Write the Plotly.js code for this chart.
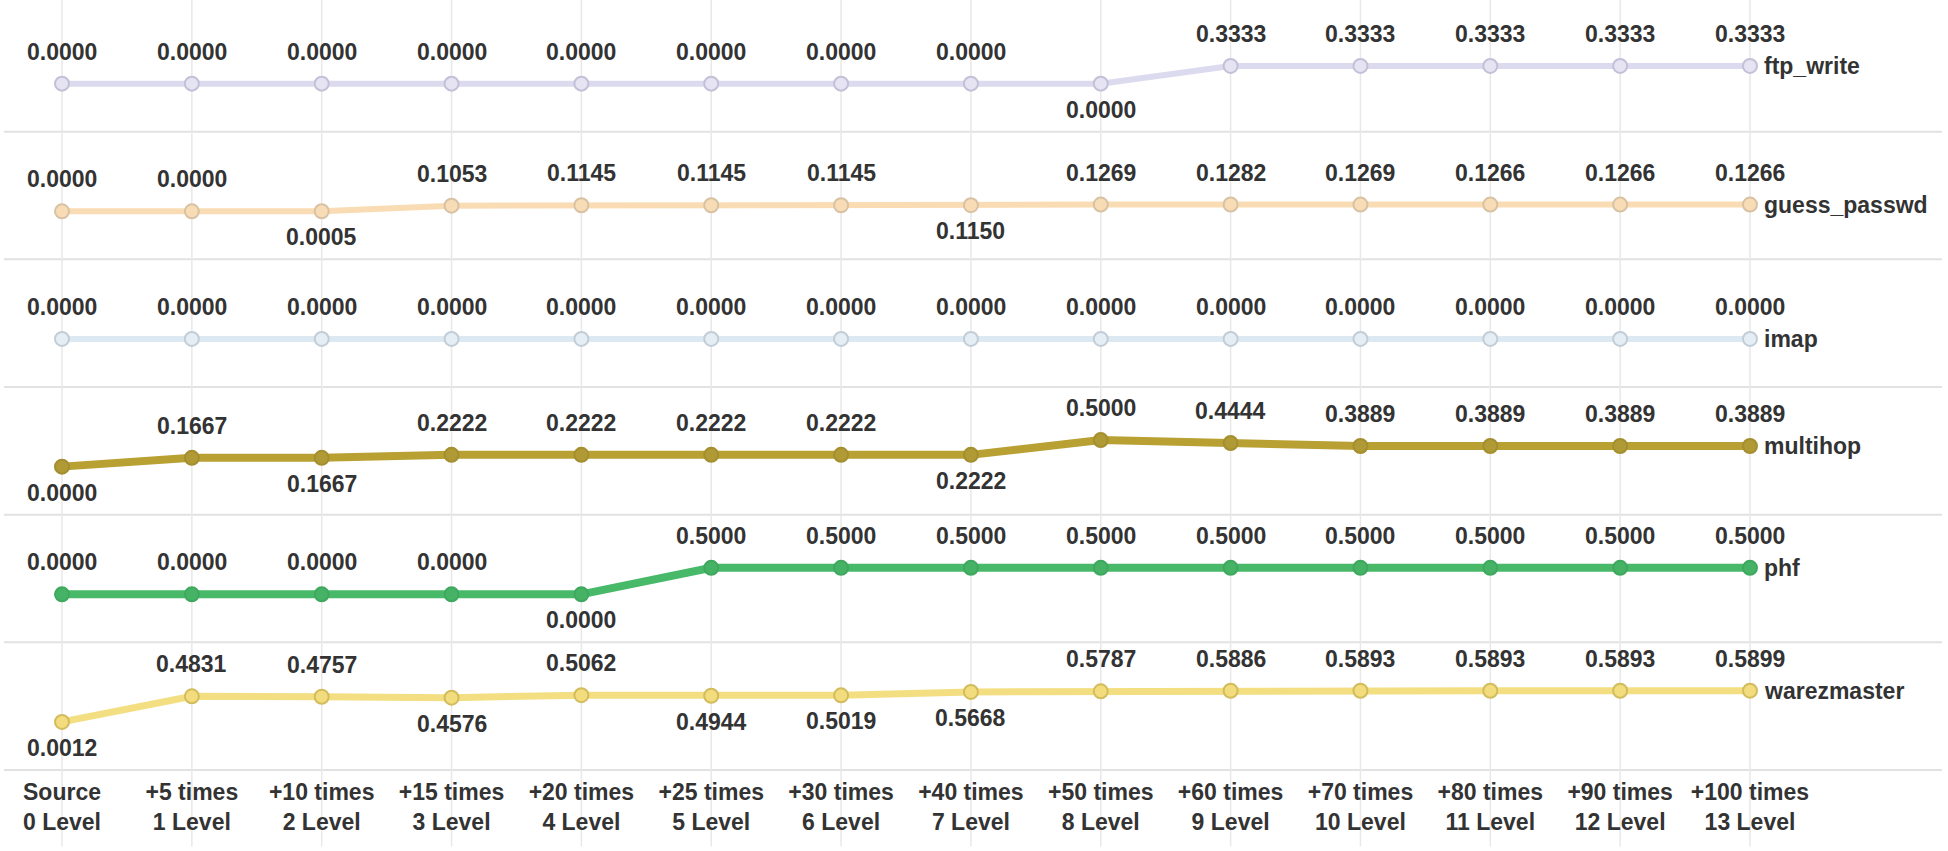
<!DOCTYPE html>
<html>
<head>
<meta charset="utf-8">
<script src="https://cdn.plot.ly/plotly-3.0.1.min.js"></script>
<style>
  html, body { margin: 0; padding: 0; background: #fff; }
  #chart { width: 1948px; height: 851px; }
</style>
</head>
<body>
<div id="chart"></div>
<script>
// categories (two-line tick labels)
const stepNames = ['Source', '+5 times', '+10 times', '+15 times', '+20 times', '+25 times', '+30 times',
  '+40 times', '+50 times', '+60 times', '+70 times', '+80 times', '+90 times', '+100 times'];
const levelNames = ['0 Level', '1 Level', '2 Level', '3 Level', '4 Level', '5 Level', '6 Level',
  '7 Level', '8 Level', '9 Level', '10 Level', '11 Level', '12 Level', '13 Level'];

// series values, top row to bottom row
const seriesNames = ['ftp_write', 'guess_passwd', 'imap', 'multihop', 'phf', 'warezmaster'];
const ftpWrite = [0, 0, 0, 0, 0, 0, 0, 0, 0, 0.3333, 0.3333, 0.3333, 0.3333, 0.3333];
const guessPasswd = [0, 0, 0.0005, 0.1053, 0.1145, 0.1145, 0.1145, 0.1150, 0.1269, 0.1282, 0.1269, 0.1266, 0.1266, 0.1266];
const imap = [0, 0, 0, 0, 0, 0, 0, 0, 0, 0, 0, 0, 0, 0];
const multihop = [0, 0.1667, 0.1667, 0.2222, 0.2222, 0.2222, 0.2222, 0.2222, 0.5, 0.4444, 0.3889, 0.3889, 0.3889, 0.3889];
const phf = [0, 0, 0, 0, 0, 0.5, 0.5, 0.5, 0.5, 0.5, 0.5, 0.5, 0.5, 0.5];
const warezmaster = [0.0012, 0.4831, 0.4757, 0.4576, 0.5062, 0.4944, 0.5019, 0.5668, 0.5787, 0.5886, 0.5893, 0.5893, 0.5893, 0.5899];
const allSeries = [ftpWrite, guessPasswd, imap, multihop, phf, warezmaster];

// styling per row
const styles = [
  { line: '#dcdaee', fill: '#e6e4f2', border: '#c3c0d8', width: 6 },
  { line: '#f9dcb3', fill: '#f8dcb6', border: '#d8c2a4', width: 6 },
  { line: '#dde9f2', fill: '#e5eef5', border: '#c2cdd7', width: 6 },
  { line: '#b8a033', fill: '#b09a35', border: '#a48f30', width: 8 },
  { line: '#48b968', fill: '#46b266', border: '#3fa85e', width: 8 },
  { line: '#f3df82', fill: '#f2dc7e', border: '#d2bc5c', width: 7 }
];
// label side for each point: 't' above, 'b' below
const labelSides = [
  'ttttttttbttttt',
  'ttbttttbtttttt',
  'tttttttttttttt',
  'btbttttbtttttt',
  'ttttbttttttttt',
  'bttbtbbbtttttt'
];

const nRows = seriesNames.length;
const xs = stepNames.map((_, i) => i);
const yRange = [-0.906, 1.502];
const fontFamily = 'Arial, "Liberation Sans", sans-serif';
const textColor = '#333333';
const fontSize = 23;

const traces = [];
const annotations = [];
const layout = {
  width: 1948,
  height: 851,
  margin: { l: 0, r: 0, t: 4, b: 81 },
  paper_bgcolor: '#ffffff',
  plot_bgcolor: 'rgba(0,0,0,0)',
  showlegend: false,
  font: { family: fontFamily, size: fontSize, color: textColor },
  xaxis: {
    range: [-0.4775, 14.525],
    tickmode: 'array',
    tickvals: xs,
    ticktext: xs.map(i => '<b>' + stepNames[i] + '</b><br><b>' + levelNames[i] + '</b>'),
    tickfont: { family: fontFamily, size: fontSize, color: textColor },
    ticklabelstandoff: 6,
    showgrid: false,
    zeroline: false,
    showline: false,
    ticks: '',
    anchor: 'y' + nRows,
    fixedrange: true
  },
  shapes: []
};

allSeries.forEach((vals, r) => {
  const axId = r === 0 ? '' : String(r + 1);
  layout['yaxis' + axId] = {
    domain: [1 - (r + 1) / nRows, 1 - r / nRows],
    range: yRange,
    showgrid: false,
    zeroline: false,
    showticklabels: false,
    showline: false,
    fixedrange: true
  };
  const st = styles[r];
  traces.push({
    x: xs,
    y: vals,
    xaxis: 'x',
    yaxis: 'y' + axId,
    type: 'scatter',
    mode: 'lines+markers',
    line: { color: st.line, width: st.width },
    marker: { size: 14, color: st.fill, line: { color: st.border, width: 2 } },
    hoverinfo: 'skip',
    cliponaxis: false
  });
  vals.forEach((v, i) => {
    const top = labelSides[r][i] !== 'b';
    annotations.push({
      x: i, y: v, xref: 'x', yref: 'y' + axId,
      text: '<b>' + v.toFixed(4) + '</b>',
      showarrow: false,
      xanchor: 'center', yanchor: 'middle',
      yshift: top ? 32 : -26,
      font: { family: fontFamily, size: fontSize, color: textColor }
    });
  });
  // series name at line end
  annotations.push({
    x: xs[xs.length - 1], y: vals[vals.length - 1], xref: 'x', yref: 'y' + axId,
    text: '<b>' + seriesNames[r] + '</b>',
    showarrow: false,
    xanchor: 'left', yanchor: 'middle',
    xshift: 12,
    font: { family: fontFamily, size: fontSize, color: textColor }
  });
  // separator below each row
  layout.shapes.push({
    type: 'line', xref: 'paper', yref: 'paper',
    x0: 4 / 1948, x1: 1942 / 1948,
    y0: 1 - (r + 1) / nRows, y1: 1 - (r + 1) / nRows,
    line: { color: '#e2e2e2', width: 2 },
    layer: 'below'
  });
});

// vertical grid lines through every category, running past the tick labels
xs.forEach(i => {
  layout.shapes.push({
    type: 'line', xref: 'x', yref: 'paper',
    x0: i, x1: i, y0: -0.1, y1: 1.006,
    line: { color: '#e8e8e8', width: 1.5 },
    layer: 'below'
  });
});

layout.annotations = annotations;

Plotly.newPlot('chart', traces, layout, { staticPlot: true, displayModeBar: false });
</script>
</body>
</html>
